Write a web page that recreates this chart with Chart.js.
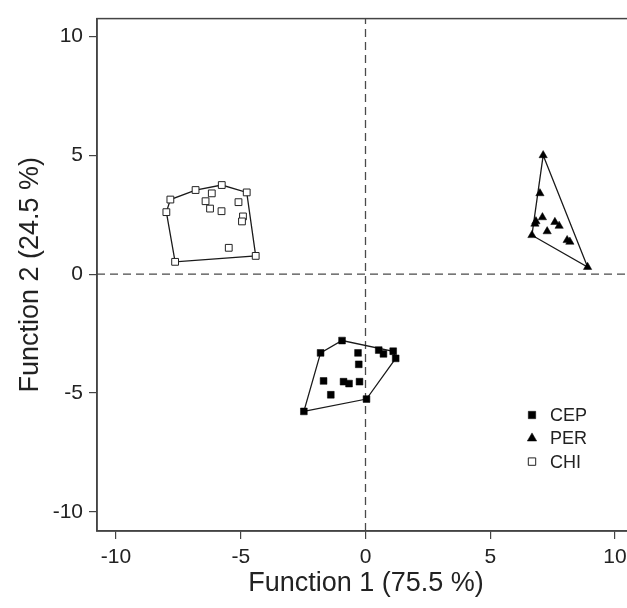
<!DOCTYPE html>
<html>
<head>
<meta charset="utf-8">
<script src="https://cdn.jsdelivr.net/npm/chart.js@4.4.1/dist/chart.umd.min.js"></script>
<style>
  html, body { margin: 0; padding: 0; background: #fff; overflow: hidden; }
  #wrap { width: 627px; height: 608px; overflow: hidden; position: relative; }
  canvas { position: absolute; left: 0; top: 0; }
</style>
</head>
<body>
<div id="wrap"><canvas id="c" width="660" height="608"></canvas></div>
<script>
// ---- data ----
const seriesNames = ["CEP", "PER", "CHI"];
const cepX = [-0.94, -1.80, -0.30, 0.53, 0.72, 1.11, 1.21, -0.27, -1.68, -0.88, -0.66, -0.24, -1.39, 0.04, -2.47];
const cepY = [-2.79, -3.31, -3.31, -3.19, -3.35, -3.24, -3.54, -3.79, -4.49, -4.52, -4.60, -4.52, -5.07, -5.25, -5.77];
const perX = [7.12, 6.99, 6.83, 6.79, 7.09, 7.59, 7.76, 7.28, 6.67, 8.08, 8.19, 8.90];
const perY = [5.00, 3.40, 2.22, 2.12, 2.39, 2.19, 2.03, 1.80, 1.64, 1.43, 1.36, 0.30];
const chiX = [-7.82, -7.98, -6.81, -5.76, -4.76, -6.16, -6.41, -6.23, -5.77, -5.09, -4.91, -4.95, -5.48, -4.40, -7.63];
const chiY = [3.14, 2.61, 3.54, 3.75, 3.44, 3.40, 3.07, 2.76, 2.65, 3.03, 2.43, 2.22, 1.11, 0.77, 0.52];
const tickValues = [-10, -5, 0, 5, 10];
const xTitle = "Function 1 (75.5 %)";
const yTitle = "Function 2 (24.5 %)";
const xRange = [-10.76, 10.8];
const yRange = [-10.8, 10.75];

function toPts(xs, ys) { return xs.map((x, i) => ({ x: x, y: ys[i] })); }

// convex hull (monotone chain), returned closed
function hull(xs, ys) {
  const p = toPts(xs, ys).sort((a, b) => a.x - b.x || a.y - b.y);
  const cross = (o, a, b) => (a.x - o.x) * (b.y - o.y) - (a.y - o.y) * (b.x - o.x);
  const lower = [], upper = [];
  for (const q of p) { while (lower.length >= 2 && cross(lower[lower.length - 2], lower[lower.length - 1], q) <= 0) lower.pop(); lower.push(q); }
  for (let i = p.length - 1; i >= 0; i--) { const q = p[i]; while (upper.length >= 2 && cross(upper[upper.length - 2], upper[upper.length - 1], q) <= 0) upper.pop(); upper.push(q); }
  upper.pop(); lower.pop();
  const h = lower.concat(upper);
  h.push(h[0]);
  return h;
}

const FONT = "'Liberation Sans', Arial, Helvetica, sans-serif";
const INK = '#222';
const AXIS = '#444';

const hullStyle = { type: 'line', showLine: true, pointRadius: 0, borderColor: '#1a1a1a', borderWidth: 1.3, fill: false, tension: 0, order: 2 };
const dashStyle = { type: 'line', showLine: true, pointRadius: 0, borderColor: '#4a4a4a', borderWidth: 1.3, borderDash: [8, 5], fill: false, order: 3 };

const datasets = [
  Object.assign({ label: '_vline', data: [{ x: 0, y: yRange[0] }, { x: 0, y: yRange[1] }] }, dashStyle),
  Object.assign({ label: '_hline', data: [{ x: xRange[0], y: 0 }, { x: xRange[1], y: 0 }] }, dashStyle),
  Object.assign({ label: '_hullCEP', data: hull(cepX, cepY) }, hullStyle),
  Object.assign({ label: '_hullPER', data: hull(perX, perY) }, hullStyle),
  Object.assign({ label: '_hullCHI', data: hull(chiX, chiY) }, hullStyle),
  { label: seriesNames[0], data: toPts(cepX, cepY), pointStyle: 'rect', pointRadius: 4.8, backgroundColor: '#000', borderColor: '#000', borderWidth: 0.5, order: 1 },
  { label: seriesNames[1], data: toPts(perX, perY), pointStyle: 'triangle', pointRadius: 4.8, backgroundColor: '#000', borderColor: '#000', borderWidth: 0.5, order: 1 },
  { label: seriesNames[2], data: toPts(chiX, chiY), pointStyle: 'rect', pointRadius: 4.8, backgroundColor: '#fff', borderColor: '#222', borderWidth: 1, order: 1 }
];

const framePlugin = {
  id: 'frame',
  afterDatasetsDraw(chart) {
    const { ctx, chartArea: a } = chart;
    ctx.save();
    ctx.strokeStyle = AXIS;
    ctx.lineWidth = 1.5;
    ctx.strokeRect(a.left, a.top, a.right - a.left, a.bottom - a.top);
    ctx.restore();
  }
};

const legendPlugin = {
  id: 'cornerLegend',
  afterDatasetsDraw(chart) {
    const { ctx, chartArea: a } = chart;
    const mx = a.right - 103, tx = a.right - 85;
    const y0 = a.bottom - 116, dy = 23.3;
    ctx.save();
    ctx.font = '18px ' + FONT;
    ctx.fillStyle = INK;
    ctx.textBaseline = 'middle';
    seriesNames.forEach((name, i) => {
      const y = y0 + i * dy;
      const ds = chart.data.datasets.find(d => d.label === name);
      ctx.save();
      ctx.fillStyle = ds.backgroundColor;
      ctx.strokeStyle = ds.borderColor;
      ctx.lineWidth = ds.borderWidth;
      ctx.beginPath();
      if (ds.pointStyle === 'triangle') {
        const r = 5.4;
        ctx.moveTo(mx, y - r);
        ctx.lineTo(mx + r * 0.866, y + r / 2);
        ctx.lineTo(mx - r * 0.866, y + r / 2);
        ctx.closePath();
      } else {
        const s = 3.7;
        ctx.rect(mx - s, y - s, 2 * s, 2 * s);
      }
      ctx.fill();
      ctx.stroke();
      ctx.restore();
      ctx.fillText(name, tx, y + 1);
    });
    ctx.restore();
  }
};

function axisCommon(titleText, titlePad) {
  return {
    type: 'linear',
    afterBuildTicks(scale) { scale.ticks = tickValues.map(v => ({ value: v })); },
    grid: { drawOnChartArea: false, drawTicks: true, tickLength: 8, color: AXIS, lineWidth: 1.2 },
    border: { display: true, color: AXIS, width: 1.5 },
    ticks: { font: { family: FONT, size: 21 }, color: INK, padding: 6, maxRotation: 0, autoSkip: false },
    title: { display: true, text: titleText, color: INK, font: { family: FONT, size: 27 }, padding: titlePad }
  };
}

const xAxis = Object.assign(axisCommon(xTitle, { top: 0, bottom: 8 }), {
  min: xRange[0], max: xRange[1],
  afterFit(scale) { scale.height = 77; }
});
const yAxis = Object.assign(axisCommon(yTitle, { top: 14, bottom: 0 }), {
  min: yRange[0], max: yRange[1],
  afterFit(scale) { scale.width = 97; }
});

new Chart(document.getElementById('c'), {
  type: 'scatter',
  data: { datasets: datasets },
  options: {
    responsive: false,
    animation: false,
    devicePixelRatio: 1,
    layout: { padding: { top: 14, right: 25, left: 0, bottom: 0 } },
    plugins: { legend: { display: false }, tooltip: { enabled: false } },
    scales: { x: xAxis, y: yAxis }
  },
  plugins: [framePlugin, legendPlugin]
});
</script>
</body>
</html>
